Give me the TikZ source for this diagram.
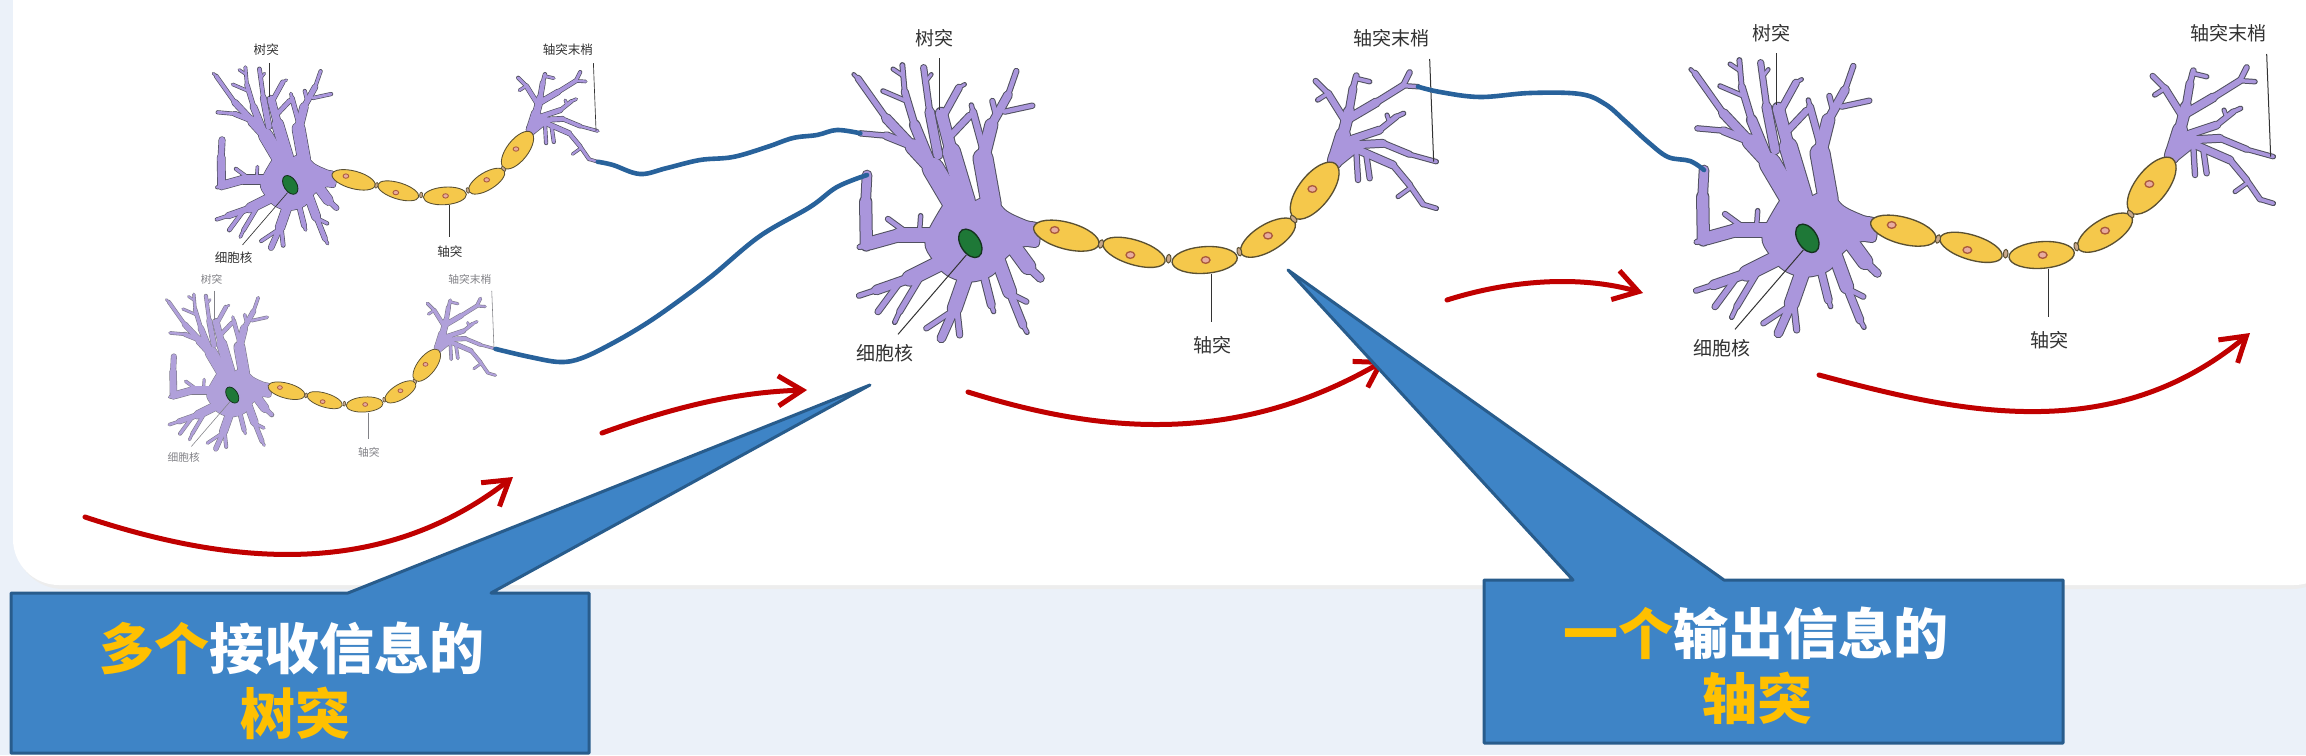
\documentclass[tikz,border=0pt]{standalone}
\usepackage{fontspec}
\newfontfamily\cjk{Noto Sans CJK SC}
\usetikzlibrary{arrows.meta}
\definecolor{bgc}{RGB}{235,241,249}
\definecolor{nfill}{RGB}{170,150,220}
\definecolor{nout}{RGB}{80,80,95}
\definecolor{nfillB}{RGB}{176,160,218}
\definecolor{noutB}{RGB}{125,122,138}
\definecolor{axy}{RGB}{245,200,75}
\definecolor{axo}{RGB}{90,80,50}
\definecolor{axn}{RGB}{200,168,140}
\definecolor{snf}{RGB}{232,172,160}
\definecolor{sno}{RGB}{170,90,60}
\definecolor{nucg}{RGB}{30,120,55}
\definecolor{nuco}{RGB}{20,50,30}
\definecolor{lblc}{RGB}{51,51,51}
\definecolor{lblB}{RGB}{130,130,135}
\definecolor{redc}{RGB}{192,0,0}
\definecolor{bluel}{RGB}{40,98,155}
\definecolor{callfill}{RGB}{62,132,198}
\definecolor{calldraw}{RGB}{40,92,140}
\definecolor{yel}{RGB}{255,192,0}

\tikzset{
  redarrow/.style={draw=redc,line width=2.5pt,line cap=round,-{Straight Barb[length=12pt,width=15pt]}},
  blueline/.style={draw=bluel,line width=2.3pt,line cap=round,line join=round},
  callout/.style={fill=callfill,draw=calldraw,line width=1.5pt,line join=round},
  ctext/.style={font=\cjk\bfseries\fontsize{27.5pt}{30pt}\selectfont,text=white,inner sep=0pt},
}

\newcommand\seg[2]{\draw[line width={(#1*1.3+\segextra)*\nsc/6*1pt},draw=\segcol,line cap=round,line join=round] #2;}

\newcommand\dendrites{%
% upper left
\seg{48}{(395,480)--(330,370)}
\seg{34}{(330,370)--(270,305)}
\seg{20}{(270,305)--(190,220)}
\seg{12}{(190,220)--(105,100)}
\seg{6}{(110,105)--(92,88)}
\seg{16}{(260,300)--(190,272)}
\seg{10}{(190,272)--(112,265)}
\seg{22}{(320,350)--(275,240)}
\seg{14}{(275,240)--(245,140)}
\seg{9}{(245,140)--(238,60)}
\seg{7}{(240,92)--(210,72)}
\seg{8}{(255,170)--(180,138)}
\seg{20}{(345,330)--(320,200)}
\seg{12}{(320,200)--(302,68)}
\seg{6}{(308,110)--(325,88)}
% upper middle
\seg{40}{(430,470)--(385,320)}
\seg{26}{(385,320)--(355,205)}
\seg{14}{(360,215)--(408,128)}
\seg{6}{(408,128)--(425,118)}
\seg{14}{(385,270)--(440,212)}
% upper right
\seg{44}{(505,480)--(480,340)}
\seg{28}{(480,340)--(505,240)}
\seg{18}{(505,240)--(555,150)}
\seg{10}{(555,150)--(580,78)}
\seg{14}{(480,310)--(450,200)}
\seg{8}{(450,200)--(445,180)}
\seg{10}{(520,215)--(508,168)}
\seg{10}{(545,200)--(628,182)}
% lower right
\seg{34}{(560,590)--(615,665)}
\seg{16}{(615,665)--(652,700)}
\seg{30}{(520,630)--(560,740)}
\seg{16}{(560,740)--(600,840)}
\seg{8}{(600,840)--(612,862)}
\seg{10}{(560,745)--(610,770)}
\seg{16}{(480,680)--(505,780)}
\seg{8}{(505,780)--(512,800)}
% bottom
\seg{32}{(430,690)--(395,790)}
\seg{18}{(395,790)--(355,880)}
\seg{12}{(400,780)--(410,870)}
\seg{10}{(385,800)--(310,850)}
% lower left
\seg{34}{(360,650)--(260,700)}
\seg{20}{(260,700)--(160,735)}
\seg{10}{(160,735)--(108,752)}
\seg{12}{(230,712)--(165,800)}
\seg{12}{(290,700)--(230,800)}
\seg{8}{(230,800)--(215,832)}
% left
\seg{32}{(345,570)--(230,570)}
\seg{28}{(230,570)--(140,595)}
\seg{26}{(130,600)--(128,470)}
\seg{20}{(128,470)--(132,390)}
\seg{10}{(135,598)--(110,606)}
\seg{10}{(240,555)--(195,522)}
\seg{8}{(290,555)--(293,512)}
% axon terminal
\seg{36}{(1540,340)--(1590,300)}
\seg{32}{(1535,350)--(1560,270)}
\seg{24}{(1560,270)--(1578,200)}
\seg{16}{(1578,200)--(1590,130)}
\seg{11}{(1590,130)--(1600,92)}
\seg{8}{(1598,100)--(1640,110)}
\seg{14}{(1565,225)--(1515,145)}
\seg{10}{(1515,145)--(1478,108)}
\seg{8}{(1515,145)--(1484,165)}
\seg{18}{(1570,225)--(1660,172)}
\seg{13}{(1660,172)--(1740,122)}
\seg{10}{(1740,122)--(1760,82)}
\seg{8}{(1740,122)--(1785,125)}
\seg{16}{(1580,285)--(1670,255)}
\seg{11}{(1670,255)--(1720,215)}
\seg{8}{(1720,215)--(1742,205)}
\seg{7}{(1700,232)--(1692,210)}
\seg{16}{(1585,300)--(1680,295)}
\seg{12}{(1680,295)--(1760,328)}
\seg{8}{(1760,328)--(1840,350)}
\seg{16}{(1595,310)--(1710,360)}
\seg{12}{(1710,360)--(1760,420)}
\seg{10}{(1760,420)--(1800,478)}
\seg{8}{(1800,478)--(1840,490)}
\seg{7}{(1760,430)--(1725,455)}
\seg{10}{(1600,320)--(1605,405)}
\seg{10}{(1630,330)--(1640,400)}
}

\newcommand\somashape[1]{\path[#1] plot[smooth cycle,tension=0.6] coordinates {(340,515) (388,453) (437,474) (502,453) (550,499) (610,528) (645,540) (645,602) (600,604) (550,636) (507,690) (437,710) (372,690) (331,645) (307,591)};}

\newcommand\axseg[5]{\draw[fill=axy,draw=axo,line width={4*\nsc/6*1pt},rotate around={#5:(#1,#2)}] (#1,#2) ellipse [x radius={#3*0.5pt},y radius={#4*0.5pt}];}
\newcommand\axnode[3]{\draw[fill=axn,draw=axo,line width={3*\nsc/6*1pt},rotate around={#3:(#1,#2)}] (#1,#2) ellipse [x radius={7*0.5pt},y radius={13*0.5pt}];}
\newcommand\axnuc[2]{\draw[fill=snf,draw=sno,line width={4*\nsc/6*1pt}] (#1,#2) ellipse [x radius={13*0.5pt},y radius={10*0.5pt}];}

% #1 ox, #2 oy, #3 scale, #4 name, #5 outline, #6 label colour, #7 fill
\newcommand\neuron[7]{%
\begin{scope}[shift={(#1,#2)},scale=#3/3]
\def\nsc{#3}%
\pgfmathsetmacro\lblsz{9.5*#3}%
\def\segextra{6}\def\segcol{#5}%
\somashape{draw=#5,line width={6*#3/6*1pt}}
\dendrites
\def\segextra{0}\def\segcol{#7}%
\somashape{fill=#7}
\dendrites
% axon
\axseg{730}{572}{101}{40}{-15}
\axseg{933}{622}{97}{37}{-17}
\axseg{1145}{645}{98}{40}{4}
\axseg{1335}{578}{93}{40}{31}
\axseg{1475}{437}{102}{48}{52}
\axnode{834}{597}{-16}
\axnode{1037}{641}{-5}
\axnode{1249}{620}{14}
\axnode{1412}{522}{42}
\axnuc{695}{555}
\axnuc{922}{630}
\axnuc{1148}{645}
\axnuc{1335}{572}
\axnuc{1468}{432}
% nucleus
\draw[fill=nucg,draw=nuco,line width={4*#3/6*1pt},rotate around={-58:(442,595)}] (442,595) ellipse [x radius={47*0.5pt},y radius={29*0.5pt}];
% label lines
\draw[draw=#6,line width={3*#3/6*1pt}] (348,40) -- (348,195);
\draw[draw=#6,line width={3*#3/6*1pt}] (1820,42) -- (1832,350);
\draw[draw=#6,line width={3*#3/6*1pt}] (430,630) -- (225,868);
\draw[draw=#6,line width={3*#3/6*1pt}] (1165,688) -- (1165,830);
% labels
\node[font=\cjk\fontsize{\lblsz pt}{\lblsz pt}\selectfont,text=#6,inner sep=0pt] (#4-dend) at (333,-21) {树突};
\node[font=\cjk\fontsize{\lblsz pt}{\lblsz pt}\selectfont,text=#6,inner sep=0pt] (#4-term) at (1704,-21) {轴突末梢};
\node[font=\cjk\fontsize{\lblsz pt}{\lblsz pt}\selectfont,text=#6,inner sep=0pt] (#4-nuc) at (185,925) {细胞核};
\node[font=\cjk\fontsize{\lblsz pt}{\lblsz pt}\selectfont,text=#6,inner sep=0pt] (#4-axon) at (1168,900) {轴突};
% connection points
\coordinate (#4-t1) at (1840,350);
\coordinate (#4-t2) at (1840,490);
\coordinate (#4-t3) at (1785,125);
\coordinate (#4-d1) at (112,265);
\coordinate (#4-d2) at (132,390);
\end{scope}}

\begin{document}
\begin{tikzpicture}[x=0.5pt,y=-0.5pt]
\clip (0,0) rectangle (2306,755);
\fill[bgc] (0,0) rectangle (2306,755);
\fill[black!7,rounded corners=24pt] (15,-80) rectangle (2340,589);
\fill[white,rounded corners=23pt] (13,-80) rectangle (2340,585);

\neuron{193}{54}{0.66}{A}{nout}{lblc}{nfill}
\neuron{149}{283}{0.565}{B}{noutB}{lblB}{nfillB}
\neuron{823}{45}{1}{C}{nout}{lblc}{nfill}
\neuron{1660}{40}{1}{D}{nout}{lblc}{nfill}

% blue connections
\draw[blueline] plot[smooth,tension=0.6] coordinates {(A-t2) (613,165) (640,174) (667,168) (700,160) (733,157) (767,147) (793,138) (817,135) (837,130) (C-d1)};
\draw[blueline] plot[smooth,tension=0.6] coordinates {(B-t1) (530,357) (560,362) (582,358) (613,343) (647,323) (680,300) (713,275) (760,236) (810,207) (837,187) (C-d2)};
\draw[blueline] plot[smooth,tension=0.6] coordinates {(C-t3) (1440,92) (1480,97) (1530,93) (1580,94) (1605,104) (1625,121) (1648,142) (1668,157) (1690,161) (D-d2)};

% red arrows
\draw[redarrow] (85,517) .. controls (230,565) and (380,580) .. (513,477);
\draw[redarrow] (602,433) .. controls (680,405) and (740,392) .. (807,390);
\draw[redarrow] (968,392) .. controls (1090,430) and (1230,450) .. (1385,360);
\draw[redarrow] (1447,300) .. controls (1510,280) and (1580,275) .. (1643,293);
\draw[redarrow] (1819,375) .. controls (1950,410) and (2110,450) .. (2250,333);

% callouts
\draw[callout] (11,593) -- (348,593) -- (870,385) -- (491,593) -- (589,593) -- (589,753) -- (11,753) -- cycle;
\draw[callout] (1484,580) -- (1573,580) -- (1288,270) -- (1724,580) -- (2063,580) -- (2063,743) -- (1484,743) -- cycle;
\node[ctext] (L1) at (292,648) {\textcolor{yel}{多个}接收信息的};
\node[ctext] (L2) at (295,713) {\textcolor{yel}{树突}};
\node[ctext] (R1) at (1756,633) {\textcolor{yel}{一个}输出信息的};
\node[ctext] (R2) at (1757,698) {\textcolor{yel}{轴突}};
\end{tikzpicture}
\end{document}
